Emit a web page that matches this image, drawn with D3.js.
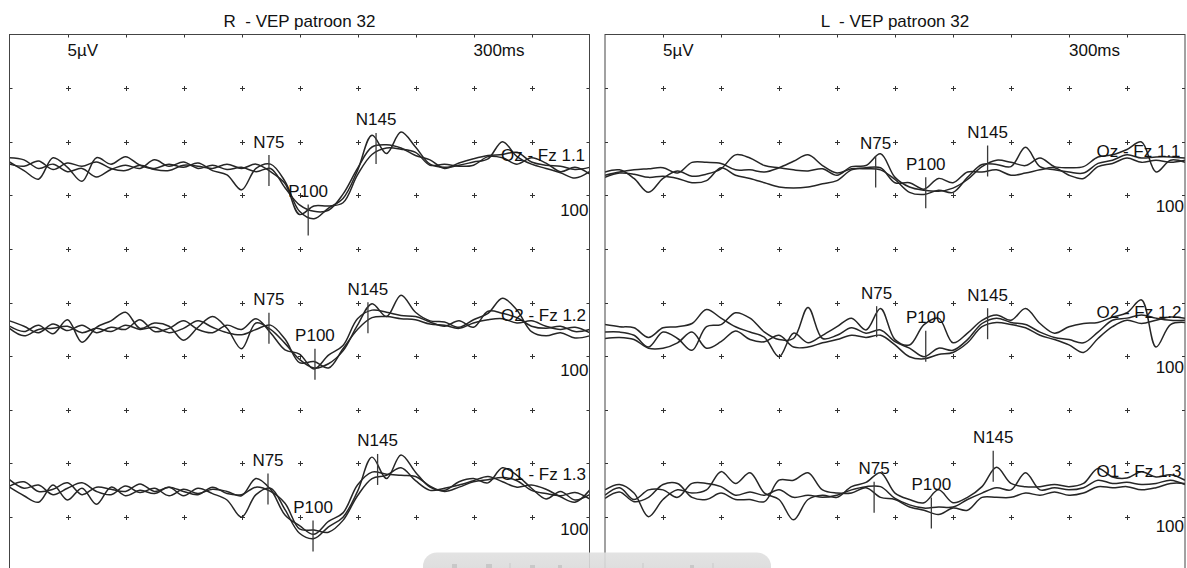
<!DOCTYPE html>
<html><head><meta charset="utf-8">
<script src="https://cdn.jsdelivr.net/npm/d3@7"></script>
<style>
body{margin:0;background:#fff;overflow:hidden}
svg{display:block}
text{font-family:Arial,"Liberation Sans",sans-serif;fill:#111;white-space:pre}
</style>
</head><body>
<svg id="c" width="1187" height="568"></svg>
<script>
// ---------------- DATA ----------------
const panelTitles = ["R  - VEP patroon 32", "L  - VEP patroon 32"];
const channelNames = ["Oz - Fz 1.1", "O2 - Fz 1.2", "O1 - Fz 1.3"];
const sensitivityLabel = "5µV";
const sweepLabel = "300ms";
const rowGainLabel = "100";
const sweepMs = 300;
const uvPerDiv = 5;
const peakNames = ["N75", "P100", "N145"];
const sampleTimes = d3.range(41).map(i => i * 7.5); // ms

// R eye (µV, positive plotted downward)
const R_Oz_a = [0.0,0.8,1.6,-0.4,0.5,1.8,-0.4,0.2,-0.5,0.3,0.6,0.2,0.5,0.1,0.8,1.2,2.6,0.6,0.2,1.8,4.6,5.3,4.3,3.4,0.8,-2.5,-0.8,-2.8,-1.4,0.2,0.5,0.3,0.0,-0.3,-1.9,-0.5,0.2,0.6,1.0,1.5,0.9];
const R_Oz_b = [-0.4,-0.2,0.6,0.2,0.9,0.6,1.4,0.7,0.3,0.6,-0.2,0.4,0.0,0.6,0.3,0.7,0.5,0.9,0.6,2.4,4.0,4.6,4.5,3.0,0.6,-1.4,-1.6,-1.3,-0.6,-0.2,0.6,0.1,-0.3,-0.6,-0.7,-0.9,0.0,0.3,0.4,0.7,0.5];
const R_Oz_c = [0.2,0.4,-0.1,0.7,0.1,0.4,0.0,0.6,0.8,0.3,0.7,0.8,0.3,0.4,0.6,0.2,0.6,0.2,0.9,2.0,4.9,4.1,4.1,3.8,1.2,-0.7,-1.3,-1.2,-0.9,0.3,0.2,0.4,0.3,-0.5,-0.4,0.2,-0.4,0.1,0.9,0.5,1.1];

const R_O2_a = [0.3,0.8,0.2,1.0,-0.3,1.8,0.4,-0.2,-1.0,0.5,0.0,0.3,1.6,0.4,-0.6,0.5,2.4,0.0,0.6,1.9,3.4,4.2,3.8,2.6,0.2,-1.8,-0.6,-2.6,-1.0,-0.2,-0.1,0.4,-0.3,-0.9,-2.3,-1.2,0.8,1.2,0.9,1.4,1.2];
const R_O2_b = [-0.2,0.3,0.9,0.1,0.7,0.2,0.9,0.4,0.6,-0.3,0.8,0.5,-0.2,0.6,0.9,0.2,0.6,-0.4,0.9,2.5,2.9,4.3,3.0,2.1,-0.4,-1.2,-1.0,-0.7,-0.6,-0.1,0.3,-0.2,0.4,-1.1,-0.9,-0.5,0.3,0.5,0.3,0.8,0.6];
const R_O2_c = [0.5,1.2,0.6,0.5,0.3,0.9,0.5,0.8,0.2,0.6,0.4,0.9,0.5,-0.2,0.4,0.9,1.1,0.6,0.2,1.5,3.7,3.6,4.2,2.4,0.6,-0.5,-0.6,-0.4,-0.3,0.1,0.2,0.5,0.0,-0.3,-0.4,0.0,-0.2,0.3,0.6,0.4,0.9];

const R_O1_a = [0.2,1.0,1.6,0.0,1.4,0.3,1.8,0.2,1.0,0.5,0.8,0.2,1.0,0.3,0.8,1.4,3.0,0.9,0.3,2.3,4.5,5.0,3.9,3.0,0.6,-2.6,-0.6,-2.8,-1.2,0.2,0.5,-0.3,-0.6,-0.2,-1.6,-0.9,0.3,1.3,0.6,1.4,0.9];
const R_O1_b = [-0.5,0.3,0.0,0.9,0.3,-0.2,0.6,0.9,0.1,0.7,0.3,1.0,0.4,0.8,0.4,0.6,1.0,-0.6,0.4,2.8,3.8,4.6,3.4,2.6,0.0,-1.2,-1.0,-0.9,-0.8,0.1,0.6,0.2,-0.3,-0.5,-0.7,-0.4,0.5,0.8,1.0,0.7,1.3];
const R_O1_c = [0.1,-0.3,0.6,0.4,-0.2,0.9,0.2,0.4,0.6,-0.1,0.6,0.2,0.6,0.9,0.2,0.8,0.9,0.2,0.6,1.7,4.1,4.2,4.4,3.3,1.0,-0.6,-0.9,-1.6,-0.4,0.5,0.3,0.0,-0.4,-0.8,-0.3,0.2,0.0,0.4,1.1,1.6,0.5];

// L eye
const L_Oz_a = [0.0,-0.2,0.6,1.9,0.6,-0.1,0.4,0.2,-0.3,-1.6,-1.3,-0.6,-0.4,-0.2,-0.1,-0.3,0.3,-0.5,-0.6,-1.7,0.5,1.4,1.7,1.8,1.5,0.7,-0.5,-1.1,-0.9,-0.6,-1.3,-0.5,-0.4,-0.5,-1.4,-1.6,-2.1,-2.8,0.0,-1.1,-0.9];
const L_Oz_b = [0.3,0.0,-0.2,-0.3,-0.4,0.1,-0.9,-0.9,-0.8,-0.2,-0.2,0.0,-0.4,-1.0,-1.6,-0.6,0.1,-0.3,-0.3,-0.2,0.7,1.9,2.1,1.7,1.9,0.5,-0.7,-0.7,-0.5,-2.3,-0.5,-0.2,0.0,0.1,-0.8,-1.1,-1.6,-1.3,-1.4,-1.4,-1.3];
const L_Oz_c = [0.5,0.1,0.2,0.5,0.4,0.6,1.0,0.8,-0.4,0.3,0.6,1.0,1.4,1.5,1.4,1.1,0.8,-0.2,-0.4,-0.4,1.0,1.0,1.6,0.6,1.0,0.0,0.0,-0.2,0.3,0.1,-0.2,-0.4,0.3,0.6,-0.5,-0.8,-1.3,-0.9,-1.1,-0.9,-1.1];

const L_O2_a = [-0.6,-0.4,-0.3,0.6,-0.3,-0.4,-0.7,-2.0,-1.2,-0.4,0.1,0.6,2.4,0.2,1.1,0.4,-0.4,-1.2,-0.1,-2.1,0.8,1.3,-0.6,-1.2,1.1,0.2,-1.0,-1.5,-1.0,-2.1,-0.7,0.2,-0.4,-0.7,-0.8,-1.3,-1.7,-2.9,1.5,-0.6,-0.8];
const L_O2_b = [0.1,0.1,0.4,1.5,0.1,0.7,1.8,-0.4,-0.6,-1.7,-1.2,0.1,0.8,0.7,-2.2,0.7,0.4,-0.3,0.2,-0.1,1.0,1.6,2.4,1.6,1.8,0.8,-0.7,-1.2,-0.8,-0.6,0.1,0.6,0.8,1.1,0.1,-1.0,-1.2,-1.5,-1.2,-1.0,-1.0];
const L_O2_c = [0.7,0.6,0.8,1.6,1.6,1.1,0.1,1.6,1.0,0.0,0.8,1.0,0.4,1.5,1.5,1.1,0.8,0.4,0.6,0.4,1.3,2.4,2.6,2.2,2.0,1.1,-0.4,-0.8,-0.6,-0.3,0.4,0.8,1.3,2.0,0.7,-0.4,-1.0,-0.7,-1.0,-1.3,-1.2];

const L_O1_a = [-0.2,-0.7,0.1,2.3,0.7,-0.2,0.1,-0.2,-1.9,-0.8,-1.8,0.1,0.7,2.6,0.7,0.3,0.5,-0.5,-0.9,-1.8,0.1,0.7,1.0,-0.2,1.0,0.5,-0.5,-2.3,-0.8,-0.5,-0.5,-0.7,-0.5,-0.8,-2.2,-1.4,-1.3,-1.9,-1.4,-1.6,-1.1];
const L_O1_b = [0.3,-0.4,0.7,-0.2,-0.2,0.5,-0.8,-0.8,-0.5,0.3,0.0,0.3,-0.2,0.5,0.3,0.5,0.3,-0.2,-0.5,-0.5,0.6,1.2,1.5,1.4,1.4,0.7,0.1,-0.4,-0.2,-1.8,-0.2,-0.4,-0.2,-0.4,-1.1,-0.8,-0.9,-0.7,-0.8,-1.1,-0.7];
const L_O1_c = [0.6,0.0,0.9,0.5,-0.7,-0.8,0.5,0.7,0.1,0.7,0.7,0.9,-1.1,-1.1,-1.8,-0.2,0.1,0.1,-0.4,0.5,0.7,1.4,1.7,2.1,1.5,1.7,0.5,0.5,0.5,0.1,0.3,0.0,0.3,0.1,-0.5,-0.4,-0.5,-0.2,-0.4,-0.8,-0.8];

// peak markers: latency (ms in sweep) and amplitude (µV) per row, order N75, P100, N145
const R_peakLatency = [[134.2,154.5,189.6],[134.2,158.0,185.4],[133.7,157.0,190.4]];
const R_peakAmp     = [[0.8,5.4,-1.26],[0.5,3.85,-0.5],[0.37,4.76,-1.45]];
const L_peakLatency = [[140.0,165.9,197.9],[140.5,165.9,197.9],[139.2,168.8,200.8]];
const L_peakAmp     = [[0.0,1.93,-1.03],[-0.87,1.42,-0.68],[0.49,1.96,-2.41]];

// ---------------- LAYOUT ----------------
const panelW = 580, divH = 53.6, panelTop = 34.5;
const panels = [
  {x0: 9.5, title: panelTitles[0], traces: [[R_Oz_a,R_Oz_b,R_Oz_c],[R_O2_a,R_O2_b,R_O2_c],[R_O1_a,R_O1_b,R_O1_c]],
   lat: R_peakLatency, amp: R_peakAmp, zero: [162,323,485], label: [161,321,480]},
  {x0: 605, title: panelTitles[1], traces: [[L_Oz_a,L_Oz_b,L_Oz_c],[L_O2_a,L_O2_b,L_O2_c],[L_O1_a,L_O1_b,L_O1_c]],
   lat: L_peakLatency, amp: L_peakAmp, zero: [172,331,492], label: [157,318,477]}
];

const svg = d3.select("#c");
const defs = svg.append("defs");

panels.forEach((p, pi) => {
  const x = d3.scaleLinear().domain([0, sweepMs]).range([p.x0, p.x0 + panelW]);
  const g = svg.append("g");

  g.append("text").attr("x", p.x0 + panelW / 2).attr("y", 27)
    .attr("text-anchor", "middle").attr("font-size", 17).attr("xml:space", "preserve").text(p.title);

  const clipId = "clip" + pi;
  defs.append("clipPath").attr("id", clipId).append("rect")
    .attr("x", p.x0).attr("y", panelTop).attr("width", panelW).attr("height", divH * 10);

  const inner = g.append("g").attr("clip-path", `url(#${clipId})`);

  // grid "+" marks
  const gx = d3.range(1, 10).map(k => x(k * sweepMs / 10));
  const gy = d3.range(1, 10).map(k => panelTop + k * divH);
  gx.forEach(cx => gy.forEach(cy => {
    inner.append("path").attr("d", `M${Math.round(cx)-2},${Math.round(cy)+0.5}h5M${Math.round(cx)+0.5},${Math.round(cy)-2}v5`)
      .attr("stroke", "#333").attr("stroke-width", 1).attr("fill", "none");
  }));
  gx.forEach(cx => inner.append("path").attr("d", `M${Math.round(cx)+0.5},${panelTop}v3`).attr("stroke", "#333"));
  gy.forEach(cy => {
    inner.append("path").attr("d", `M${p.x0},${Math.round(cy)+0.5}h3`).attr("stroke", "#333");
    inner.append("path").attr("d", `M${p.x0+panelW},${Math.round(cy)+0.5}h-3`).attr("stroke", "#333");
  });

  inner.append("text").attr("x", x(sweepMs / 10)).attr("y", 56).attr("font-size", 17).text(sensitivityLabel);
  inner.append("text").attr("x", x(sweepMs * 8 / 10)).attr("y", 56).attr("font-size", 17).text(sweepLabel);

  p.traces.forEach((rowTraces, ri) => {
    const y = d3.scaleLinear().domain([0, uvPerDiv]).range([p.zero[ri], p.zero[ri] + divH]);
    const line = d3.line().x((d, i) => x(sampleTimes[i])).y(d => y(d)).curve(d3.curveCatmullRom.alpha(0.5));
    rowTraces.forEach(tr => {
      inner.append("path").attr("d", line(tr)).attr("fill", "none")
        .attr("stroke", "#262626").attr("stroke-width", 1.5).attr("stroke-linejoin", "round");
    });
    inner.append("text").attr("x", p.x0 + 491.5).attr("y", p.label[ri]).attr("font-size", 17).text(channelNames[ri]);
    inner.append("text").attr("x", p.x0 + panelW - 1).attr("y", p.label[ri] + 54.5)
      .attr("text-anchor", "end").attr("font-size", 17).text(rowGainLabel);
    peakNames.forEach((name, k) => {
      const mx = x(p.lat[ri][k]);
      const my = y(p.amp[ri][k]);
      inner.append("line").attr("x1", mx).attr("x2", mx).attr("y1", my - 15.5).attr("y2", my + 15.5)
        .attr("stroke", "#3a3a3a").attr("stroke-width", 1.3);
      inner.append("text").attr("x", mx).attr("y", my - 15.5 - 7.5)
        .attr("text-anchor", "middle").attr("font-size", 17).text(name);
    });
  });

  g.append("rect").attr("x", p.x0).attr("y", panelTop).attr("width", panelW).attr("height", divH * 10)
    .attr("fill", "none").attr("stroke", "#444").attr("stroke-width", 1);
});

// bottom floating toolbar overlay
const grad = defs.append("linearGradient").attr("id", "tb").attr("x1", 0).attr("x2", 0).attr("y1", 0).attr("y2", 1);
grad.append("stop").attr("offset", "0%").attr("stop-color", "#e0e0e0");
grad.append("stop").attr("offset", "100%").attr("stop-color", "#d2d2d2");
const tb = svg.append("g");
tb.append("rect").attr("x", 423).attr("y", 552.5).attr("width", 348).attr("height", 40).attr("rx", 14)
  .attr("fill", "url(#tb)").attr("opacity", 0.9);
[[452,564,5,4],[486,564,6,4],[530,565,5,3],[558,565,4,3],[690,565,4,3]].forEach(r => {
  tb.append("rect").attr("x", r[0]).attr("y", r[1]).attr("width", r[2]).attr("height", r[3]).attr("fill", "#c8c8c8");
});
[510,643,713].forEach(vx => tb.append("line").attr("x1", vx).attr("x2", vx).attr("y1", 563).attr("y2", 568).attr("stroke", "#c9c9c9"));
</script>
</body></html>
